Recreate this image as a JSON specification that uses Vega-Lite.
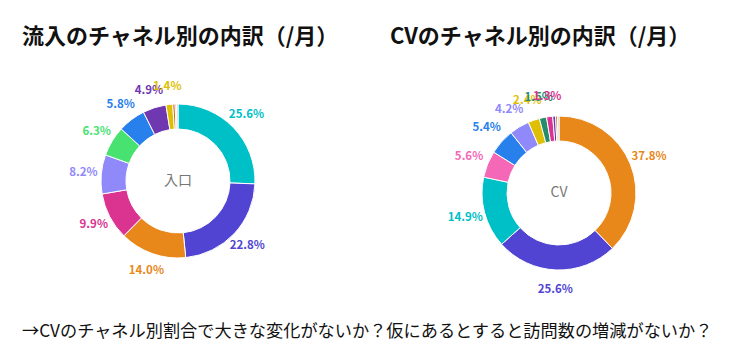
{
  "$schema": "https://vega.github.io/schema/vega-lite/v6.json",
  "padding": {"left": 0, "right": 0, "top": 26, "bottom": 0},
  "background": "white",
  "config": {
    "view": {"stroke": null},
    "font": "Noto Sans CJK JP",
    "concat": {"spacing": 20}
  },
  "datasets": {
    "inflow": [
      {"channel": "Organic Search", "value": 0.256},
      {"channel": "Direct", "value": 0.228},
      {"channel": "Paid Search", "value": 0.140},
      {"channel": "Social", "value": 0.099},
      {"channel": "Referral", "value": 0.082},
      {"channel": "Display", "value": 0.063},
      {"channel": "Email", "value": 0.058},
      {"channel": "Affiliates", "value": 0.049},
      {"channel": "Organic Social", "value": 0.014},
      {"channel": "Paid Social", "value": 0.005},
      {"channel": "Cross-network", "value": 0.003},
      {"channel": "Other", "value": 0.003}
    ],
    "cv": [
      {"channel": "Paid Search", "value": 0.378},
      {"channel": "Direct", "value": 0.256},
      {"channel": "Organic Search", "value": 0.149},
      {"channel": "Cross-network", "value": 0.056},
      {"channel": "Email", "value": 0.054},
      {"channel": "Referral", "value": 0.042},
      {"channel": "Organic Social", "value": 0.024},
      {"channel": "Video", "value": 0.015},
      {"channel": "Social", "value": 0.013},
      {"channel": "Affiliates", "value": 0.006},
      {"channel": "Paid Social", "value": 0.004},
      {"channel": "Other", "value": 0.003}
    ]
  },
  "title": {
    "text": "→CVのチャネル別割合で大きな変化がないか？仮にあるとすると訪問数の増減がないか？",
    "orient": "bottom",
    "anchor": "start",
    "dx": 22,
    "fontSize": 17.2,
    "fontWeight": "normal",
    "color": "#111",
    "offset": -2
  },
  "resolve": {"scale": {"theta": "independent"}},
  "hconcat": [
    {
      "width": 356,
      "height": 240,
      "title": {"text": "流入のチャネル別の内訳（/月）", "anchor": "start", "dx": 22, "fontSize": 22, "fontWeight": "bold", "color": "#111", "offset": 12},
      "layer": [
        {
          "data": {"name": "inflow"},
          "mark": {"type": "arc", "outerRadius": 77, "innerRadius": 52, "stroke": "white", "strokeWidth": 1},
          "encoding": {
            "theta": {"field": "value", "type": "quantitative", "stack": true},
            "order": {"field": "value", "type": "quantitative", "sort": "descending"},
            "color": {"field": "channel", "type": "nominal", "legend": null,
              "scale": {"domain": ["Organic Search", "Direct", "Paid Search", "Social", "Referral", "Display", "Email", "Affiliates", "Organic Social", "Paid Social", "Cross-network", "Video", "Other"],
                        "range": ["#00C0C7", "#5144D3", "#E8871A", "#DA3490", "#9089FA", "#47E26F", "#2780EB", "#6F38B1", "#DFBF03", "#CB6F10", "#F468B7", "#268D6C", "#B0C4D0"]}}
          }
        },
        {
          "data": {"name": "inflow"},
          "transform": [{"filter": "datum.value >= 0.013"}],
          "mark": {"type": "text", "radius": 95, "fontSize": 11.5, "fontWeight": 600},
          "encoding": {
            "theta": {"field": "value", "type": "quantitative", "stack": true},
            "order": {"field": "value", "type": "quantitative", "sort": "descending"},
            "text": {"field": "value", "type": "quantitative", "format": ".1%"},
            "color": {"field": "channel", "type": "nominal", "legend": null,
              "scale": {"domain": ["Organic Search", "Direct", "Paid Search", "Social", "Referral", "Display", "Email", "Affiliates", "Organic Social", "Paid Social", "Cross-network", "Video", "Other"],
                        "range": ["#00C0C7", "#5144D3", "#E8871A", "#DA3490", "#9089FA", "#47E26F", "#2780EB", "#6F38B1", "#DFBF03", "#CB6F10", "#F468B7", "#268D6C", "#B0C4D0"]}}
          }
        },
        {
          "data": {"values": [{"label": "入口"}]},
          "mark": {"type": "text", "fontSize": 14, "color": "#777"},
          "encoding": {"text": {"field": "label", "type": "nominal"}}
        }
      ]
    },
    {
      "width": 366,
      "height": 264,
      "title": {"text": "CVのチャネル別の内訳（/月）", "anchor": "start", "dx": 14, "fontSize": 22, "fontWeight": "bold", "color": "#111", "offset": 12},
      "layer": [
        {
          "data": {"name": "cv"},
          "mark": {"type": "arc", "outerRadius": 77, "innerRadius": 52, "stroke": "white", "strokeWidth": 1},
          "encoding": {
            "theta": {"field": "value", "type": "quantitative", "stack": true},
            "order": {"field": "value", "type": "quantitative", "sort": "descending"},
            "color": {"field": "channel", "type": "nominal", "legend": null,
              "scale": {"domain": ["Organic Search", "Direct", "Paid Search", "Social", "Referral", "Display", "Email", "Affiliates", "Organic Social", "Paid Social", "Cross-network", "Video", "Other"],
                        "range": ["#00C0C7", "#5144D3", "#E8871A", "#DA3490", "#9089FA", "#47E26F", "#2780EB", "#6F38B1", "#DFBF03", "#CB6F10", "#F468B7", "#268D6C", "#B0C4D0"]}}
          }
        },
        {
          "data": {"name": "cv"},
          "transform": [{"filter": "datum.value >= 0.013"}],
          "mark": {"type": "text", "radius": 97, "fontSize": 11.5, "fontWeight": 600},
          "encoding": {
            "theta": {"field": "value", "type": "quantitative", "stack": true},
            "order": {"field": "value", "type": "quantitative", "sort": "descending"},
            "text": {"field": "value", "type": "quantitative", "format": ".1%"},
            "color": {"field": "channel", "type": "nominal", "legend": null,
              "scale": {"domain": ["Organic Search", "Direct", "Paid Search", "Social", "Referral", "Display", "Email", "Affiliates", "Organic Social", "Paid Social", "Cross-network", "Video", "Other"],
                        "range": ["#00C0C7", "#5144D3", "#E8871A", "#DA3490", "#9089FA", "#47E26F", "#2780EB", "#6F38B1", "#DFBF03", "#CB6F10", "#F468B7", "#268D6C", "#B0C4D0"]}}
          }
        },
        {
          "data": {"values": [{"label": "CV"}]},
          "mark": {"type": "text", "fontSize": 14, "color": "#777"},
          "encoding": {"text": {"field": "label", "type": "nominal"}}
        }
      ]
    }
  ]
}
